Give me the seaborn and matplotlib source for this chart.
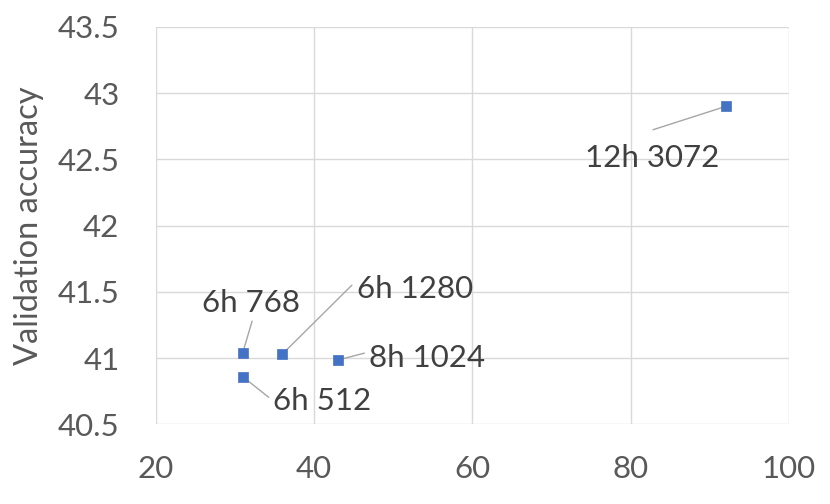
import matplotlib
matplotlib.use("Agg")
import matplotlib.pyplot as plt
import seaborn as sns
import pandas as pd

# data
labels = ["6h 768", "6h 1280", "8h 1024", "6h 512", "12h 3072"]
x_vals = [31.0, 36.0, 43.0, 31.0, 92.0]
y_vals = [41.04, 41.03, 40.985, 40.86, 42.9]
x_ticks = [20, 40, 60, 80, 100]
y_ticks = [40.5, 41, 41.5, 42, 42.5, 43, 43.5]
y_tick_labels = ["40.5", "41", "41.5", "42", "42.5", "43", "43.5"]

# label placement (pixel offsets from point): text anchor, leader-line end
text_off = [(8.7, 41), (132.3, 55.7), (89.3, -7), (79.7, -33.3), (-73.3, -61)]
line_off = [(9.4, 31.7), (69.6, 69), (26.7, 7), (26, -20.6), (-72.6, -23.3)]

sns.set_theme(style="white")
plt.rcParams["font.family"] = ["Lato", "DejaVu Sans"]

df = pd.DataFrame({"x": x_vals, "y": y_vals, "label": labels})

fig = plt.figure(figsize=(8.3, 5.04), dpi=100)
ax = fig.add_axes([0.1875, 0.158, 0.763, 0.7885])

sns.scatterplot(data=df, x="x", y="y", ax=ax, marker="s", s=55,
                color="#4472C4", edgecolor="#4472C4", linewidth=0.5, zorder=5)

ax.set_xlim(20, 100)
ax.set_ylim(40.5, 43.5)
ax.set_xticks(x_ticks)
ax.set_xticklabels([str(t) for t in x_ticks])
ax.set_yticks(y_ticks)
ax.set_yticklabels(y_tick_labels)
ax.grid(True, color="#d9d9d9", linewidth=1)
ax.set_axisbelow(True)
for s in ax.spines.values():
    s.set_visible(False)
ax.tick_params(axis="both", length=0, labelsize=22.5, colors="#595959")
ax.tick_params(axis="y", pad=26)
ax.tick_params(axis="x", pad=22)
ax.set_xlabel("")
ax.set_ylabel("Validation accuracy", fontsize=23.5, color="#595959", labelpad=10)

for lab, xv, yv, to, lo in zip(labels, x_vals, y_vals, text_off, line_off):
    ax.annotate("", xy=(xv, yv), xytext=lo, textcoords="offset pixels",
                arrowprops=dict(arrowstyle="-", color="#a6a6a6", lw=1,
                                shrinkA=0, shrinkB=2))
    ax.annotate(lab, xy=(xv, yv), xytext=to, textcoords="offset pixels",
                ha="center", va="baseline", fontsize=22.5, color="#404040")

fig.savefig("out.png", dpi=100)
